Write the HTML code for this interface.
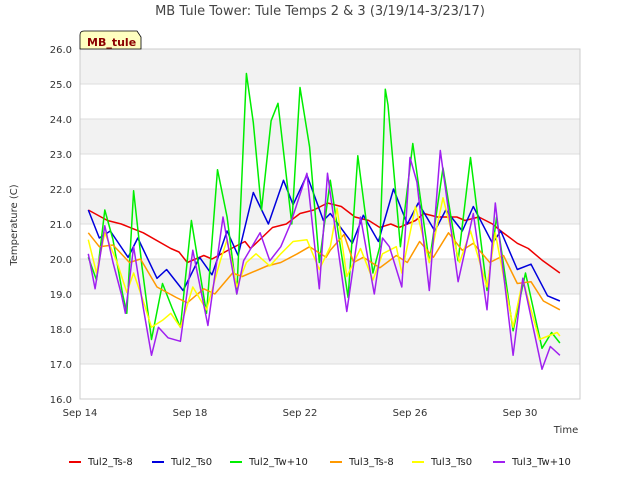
<!DOCTYPE html>
<html><head><meta charset="utf-8"><style>
body{margin:0;background:#fff;font-family:"Liberation Sans","DejaVu Sans",sans-serif}
svg text{font-family:"DejaVu Sans","Liberation Sans",sans-serif}
</style></head><body>
<svg id="chart" width="640" height="480" viewBox="0 0 640 480" xmlns="http://www.w3.org/2000/svg">
<text x="320" y="15" text-anchor="middle" font-size="13" fill="#444">MB Tule Tower: Tule Temps 2 &amp; 3 (3/19/14-3/23/17)</text>
<g id="bands"></g><g id="grid"></g>
<rect x="80" y="49" width="500" height="350" fill="none" stroke="#ccc"/>
<g id="series"></g><g id="ticks"></g>
<g>
<path d="M80,49 L80,35 Q80,31 84,31 L137,31 L141,37 L141,49 Z" fill="#ffffc0" stroke="#000" stroke-width="0.8"/>
<text x="87" y="46" font-size="11" font-weight="bold" fill="#8b0000">MB_tule</text></g>
<text transform="translate(17,225) rotate(-90)" text-anchor="middle" font-size="10" fill="#333">Temperature (C)</text>
<text x="566" y="433" text-anchor="middle" font-size="10" fill="#333">Time</text>
<g id="legend"></g>
</svg>
<script>
const names=["Tul2_Ts-8","Tul2_Ts0","Tul2_Tw+10","Tul3_Ts-8","Tul3_Ts0","Tul3_Tw+10"];
const colors=["#ee0000","#0000dd","#00ee00","#ff9900","#ffff00","#a020f0"];
const yTicks=[16,17,18,19,20,21,22,23,24,25,26];
const xTickDays=[0,4,8,12,16];
const xTickLabels=["Sep 14","Sep 18","Sep 22","Sep 26","Sep 30"];
const redT=[0.3,1,1.5,2.3,3.3,3.6,3.9,4.5,4.8,5.5,6,6.2,7,7.5,8,8.5,9,9.5,10,10.5,10.9,11.3,11.6,12.2,12.5,13,13.7,14,14.5,15,15.3,15.9,16.3,16.8,17.45];
const redV=[21.4,21.1,21.0,20.75,20.3,20.2,19.9,20.1,20.0,20.3,20.5,20.3,20.9,21.0,21.3,21.4,21.6,21.5,21.2,21.1,20.9,21.0,20.9,21.1,21.3,21.2,21.2,21.1,21.2,21.0,20.8,20.45,20.3,19.97,19.6];
const blueT=[0.3,0.7,1.1,1.75,2.1,2.8,3.15,3.75,4.35,4.8,5.35,5.75,6.3,6.85,7.4,7.75,8.25,8.85,9.1,9.9,10.3,10.85,11.4,11.9,12.3,12.9,13.3,13.9,14.3,15,15.3,15.9,16.4,17,17.45];
const blueV=[21.4,20.6,20.8,20.05,20.6,19.45,19.7,19.1,20.05,19.55,20.8,20.1,21.9,21.0,22.25,21.55,22.4,21.1,21.3,20.45,21.25,20.5,22.0,21.0,21.6,20.8,21.4,20.8,21.5,20.45,20.8,19.7,19.85,18.95,18.8];
const greenT=[0.3,0.6,0.9,1.2,1.55,1.7,1.95,2.25,2.6,3,3.35,3.65,4.05,4.6,5,5.35,5.7,6.05,6.3,6.6,6.95,7.2,7.7,8,8.35,8.7,9.1,9.75,10.1,10.65,10.9,11.1,11.2,11.65,12.1,12.7,13.2,13.75,14.2,14.8,15.15,15.75,16.2,16.8,17.15,17.45];
const greenV=[20.05,19.4,21.4,20.55,19.0,18.45,21.95,19.8,17.7,19.3,18.6,18.05,21.1,18.45,22.55,21.2,19.0,25.3,23.9,21.4,23.95,24.45,21.0,24.9,23.2,19.9,22.25,18.9,22.95,19.6,20.35,24.85,24.4,20.35,23.3,19.9,22.6,19.95,22.9,19.1,21.2,17.95,19.6,17.45,17.9,17.6];
const orangeT=[0.3,0.7,1.2,1.8,2.2,2.8,3.5,3.9,4.5,4.9,5.55,5.9,6.8,7.3,7.9,8.35,8.95,9.1,9.6,9.95,10.3,10.9,11.5,11.9,12.35,12.85,13.4,13.9,14.3,14.9,15.4,15.9,16.4,16.85,17.45];
const orangeV=[20.75,20.35,20.4,19.9,20.0,19.2,18.9,18.75,19.15,19.0,19.6,19.5,19.8,19.9,20.15,20.35,20.05,20.25,20.7,19.9,20.05,19.75,20.1,19.9,20.5,20.05,20.75,20.25,20.45,19.9,20.1,19.3,19.35,18.8,18.55];
const yellowT=[0.3,0.6,0.9,1.35,1.7,1.95,2.3,2.6,3,3.3,3.65,4.1,4.6,5.1,5.35,5.7,6.05,6.4,6.9,7.3,7.75,8.25,8.7,9.1,9.35,9.7,10.2,10.65,11,11.5,11.7,12.2,12.7,13.2,13.8,14.2,14.8,15.1,15.75,16.1,16.7,17.35,17.45];
const yellowV=[20.55,19.6,20.75,19.9,19.05,19.6,18.8,18.05,18.25,18.45,18.05,19.2,18.55,19.95,20.55,19.2,19.9,20.15,19.8,20.15,20.5,20.55,19.7,20.35,21.45,19.5,20.3,19.4,20.15,20.35,19.6,21.5,19.9,21.75,19.9,20.8,19.2,20.75,18.05,19.4,17.7,17.9,17.8];
const purpleT=[0.3,0.55,0.9,1.2,1.5,1.65,1.95,2.3,2.6,2.85,3.2,3.65,4.1,4.65,5.2,5.7,5.95,6.55,6.9,7.3,7.65,8.25,8.7,9,9.7,10.2,10.7,11,11.25,11.7,12,12.25,12.7,13.1,13.75,14.3,14.8,15.1,15.75,16.1,16.8,17.1,17.45];
const purpleV=[20.15,19.15,20.95,19.9,19.0,18.45,20.35,18.6,17.25,18.05,17.75,17.65,20.25,18.1,21.2,19.0,19.95,20.75,19.95,20.35,21.0,22.45,19.15,22.45,18.5,21.2,19.0,20.6,20.35,19.2,22.9,22.2,19.1,23.1,19.35,21.3,18.55,21.6,17.25,19.45,16.85,17.5,17.25];
const seriesT=[redT,blueT,greenT,orangeT,yellowT,purpleT];
const seriesV=[redV,blueV,greenV,orangeV,yellowV,purpleV];
const NS="http://www.w3.org/2000/svg";
const X0=80,PX_DAY=27.5,Y0=399,PX_DEG=35,YMIN=16;
function xs(d){return X0+d*PX_DAY;}
function ys(v){return Y0-(v-YMIN)*PX_DEG;}
function mk(tag,attrs,parent){const e=document.createElementNS(NS,tag);for(const k in attrs)e.setAttribute(k,attrs[k]);parent.appendChild(e);return e;}
const bands=document.getElementById('bands'),grid=document.getElementById('grid'),ticks=document.getElementById('ticks');
for(let i=0;i<yTicks.length-1;i++){
 if((yTicks.length-2-i)%2===0){
  const r=mk('rect',{x:80,y:ys(yTicks[i+1]),width:500,height:PX_DEG,fill:'#f2f2f2'},bands);
  
  
 }
}
yTicks.forEach(v=>{
 const l=mk('line',{x1:80,x2:580,y1:ys(v),y2:ys(v),stroke:'#ddd'},grid);
 
 
 const t=mk('text',{x:72,y:ys(v)+4,'text-anchor':'end','font-size':'10',fill:'#333'},ticks);
 
 
 t.textContent=v.toFixed(1);
});
xTickDays.forEach((d,i)=>{
 const t=mk('text',{x:xs(d),y:416,'text-anchor':'middle','font-size':'10',fill:'#333'},ticks);
 
 
 t.textContent=xTickLabels[i];
});
const sg=document.getElementById('series');
seriesT.forEach((T,s)=>{
 const pts=T.map((d,i)=>xs(d).toFixed(1)+','+ys(seriesV[s][i]).toFixed(1)).join(' ');
 const p=mk('polyline',{points:pts,fill:'none',stroke:colors[s],'stroke-width':1.5,'stroke-linejoin':'round'},sg);
 
 
});
const lg=document.getElementById('legend');
const lgX=[69,152,230,330,412,493];
names.forEach((n,i)=>{
 const g=mk('g',{},lg);
 
 
 mk('line',{x1:lgX[i],x2:lgX[i]+12,y1:462,y2:462,stroke:colors[i],'stroke-width':2},g);
 const t=mk('text',{x:lgX[i]+19,y:465,'font-size':'10',fill:'#222'},g);
 t.textContent=n;
});
</script>
</body></html>
